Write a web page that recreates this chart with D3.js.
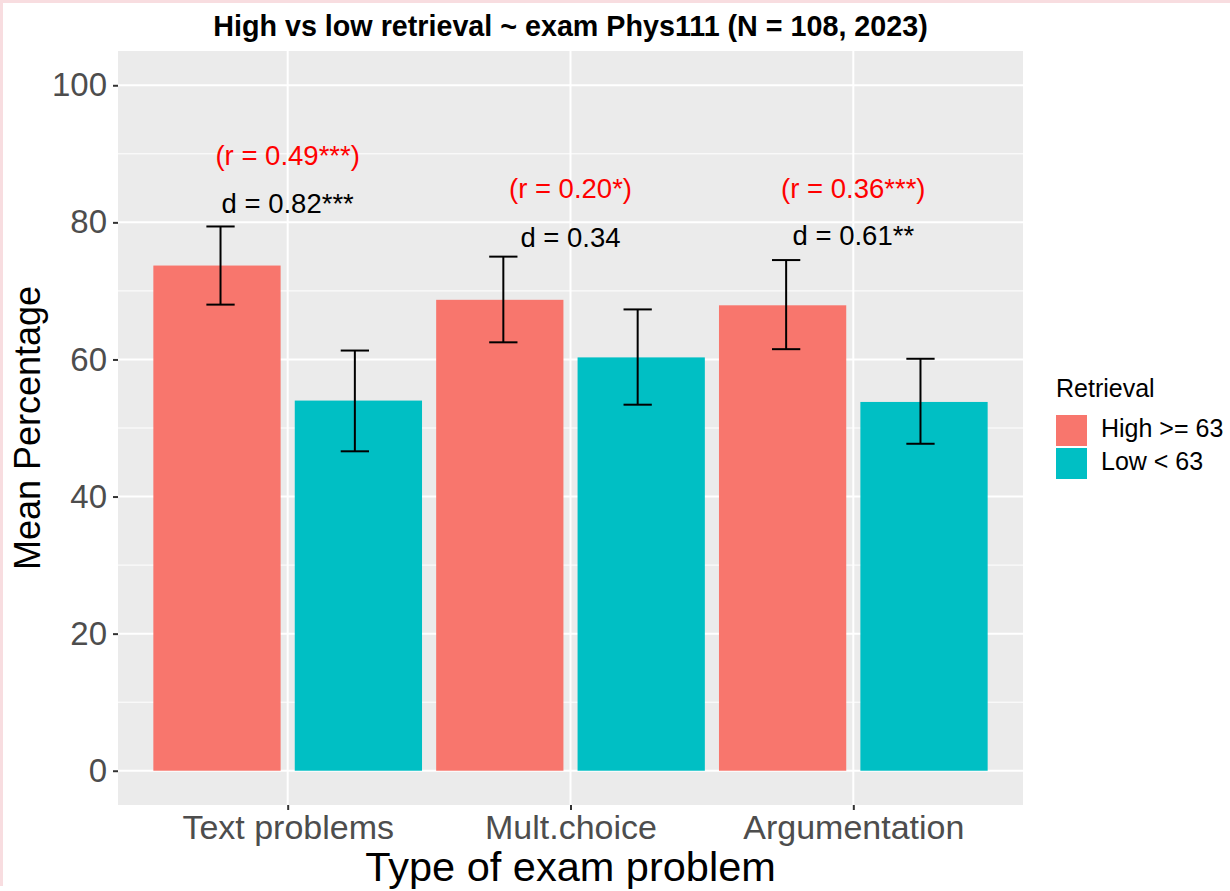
<html>
<head>
<script src="https://d3js.org/d3.v7.min.js"></script>
<style>
body { margin: 0; background: #fff; }
svg { display: block; font-family: 'Liberation Sans', Arial, sans-serif; }
</style>
</head>
<body>
<svg width="1230" height="891"></svg>
<script>

// data
var categories = ["Text problems", "Mult.choice", "Argumentation"];
var groups = ["High >= 63", "Low < 63"];
var highMean = [73.7, 68.7, 67.9];
var highLow = [68.0, 62.5, 61.5];
var highHigh = [79.4, 75.0, 74.5];
var lowMean = [54.0, 60.3, 53.8];
var lowLow = [46.6, 53.4, 47.7];
var lowHigh = [61.3, 67.3, 60.1];
var rLabels = ["(r = 0.49***)", "(r = 0.20*)", "(r = 0.36***)"];
var dLabels = ["d = 0.82***", "d = 0.34", "d = 0.61**"];
var rLabelY = [89.8, 84.9, 84.9];
var dLabelY = [82.8, 77.8, 78.0];
var yTicks = [0, 20, 40, 60, 80, 100];
var yMinor = [10, 30, 50, 70, 90];

var colors = {"High >= 63": "#F8766D", "Low < 63": "#00BFC4"};

var svg = d3.select("svg");

// pink frame of the screenshot
svg.append("rect").attr("x", 0).attr("y", 0).attr("width", 1230).attr("height", 3).attr("fill", "#F8DDE0");
svg.append("rect").attr("x", 0).attr("y", 0).attr("width", 3).attr("height", 886).attr("fill", "#F8DDE0");

var pLeft = 118, pRight = 1023, pTop = 51, pBottom = 805;

var x = d3.scalePoint().domain(categories).range([pLeft, pRight]).padding(0.6);
var y = d3.scaleLinear().domain([-5, 105]).range([pBottom, pTop]);
var step = x.step();

// panel
svg.append("rect").attr("x", pLeft).attr("y", pTop)
	.attr("width", pRight - pLeft).attr("height", pBottom - pTop).attr("fill", "#EBEBEB");

svg.selectAll("line.minor").data(yMinor).enter().append("line").attr("class", "minor")
	.attr("x1", pLeft).attr("x2", pRight)
	.attr("y1", function (d) { return y(d); }).attr("y2", function (d) { return y(d); })
	.attr("stroke", "#fff").attr("stroke-width", 1);
svg.selectAll("line.major").data(yTicks).enter().append("line").attr("class", "major")
	.attr("x1", pLeft).attr("x2", pRight)
	.attr("y1", function (d) { return y(d); }).attr("y2", function (d) { return y(d); })
	.attr("stroke", "#fff").attr("stroke-width", 2);
svg.selectAll("line.vmajor").data(categories).enter().append("line").attr("class", "vmajor")
	.attr("x1", function (d) { return x(d); }).attr("x2", function (d) { return x(d); })
	.attr("y1", pTop).attr("y2", pBottom)
	.attr("stroke", "#fff").attr("stroke-width", 2);

// bars
var rows = [];
categories.forEach(function (c, i) {
	rows.push({cat: c, group: groups[0], mean: highMean[i], lo: highLow[i], hi: highHigh[i], side: -1});
	rows.push({cat: c, group: groups[1], mean: lowMean[i], lo: lowLow[i], hi: lowHigh[i], side: 1});
});

var barW = 0.45 * step;
svg.selectAll("rect.bar").data(rows).enter().append("rect").attr("class", "bar")
	.attr("x", function (d) { return x(d.cat) + d.side * 0.25 * step - barW / 2; })
	.attr("width", barW)
	.attr("y", function (d) { return y(d.mean); })
	.attr("height", function (d) { return y(0) - y(d.mean); })
	.attr("fill", function (d) { return colors[d.group]; });

// error bars
var capW = 0.1 * step;
var eb = svg.selectAll("g.err").data(rows).enter().append("g").attr("class", "err")
	.attr("stroke", "#000").attr("stroke-width", 2);
function ex(d) { return x(d.cat) + d.side * 0.2375 * step; }
eb.append("line").attr("x1", ex).attr("x2", ex)
	.attr("y1", function (d) { return y(d.lo); }).attr("y2", function (d) { return y(d.hi); });
eb.append("line").attr("x1", function (d) { return ex(d) - capW / 2; }).attr("x2", function (d) { return ex(d) + capW / 2; })
	.attr("y1", function (d) { return y(d.lo); }).attr("y2", function (d) { return y(d.lo); });
eb.append("line").attr("x1", function (d) { return ex(d) - capW / 2; }).attr("x2", function (d) { return ex(d) + capW / 2; })
	.attr("y1", function (d) { return y(d.hi); }).attr("y2", function (d) { return y(d.hi); });

// annotations
svg.selectAll("text.r").data(categories).enter().append("text").attr("class", "r")
	.attr("x", function (d) { return x(d); })
	.attr("y", function (d, i) { return y(rLabelY[i]); })
	.attr("dy", "0.34em").attr("text-anchor", "middle")
	.attr("font-size", 27.5).attr("fill", "#FF0000")
	.text(function (d, i) { return rLabels[i]; });
svg.selectAll("text.d").data(categories).enter().append("text").attr("class", "d")
	.attr("x", function (d) { return x(d); })
	.attr("y", function (d, i) { return y(dLabelY[i]); })
	.attr("dy", "0.34em").attr("text-anchor", "middle")
	.attr("font-size", 27.5).attr("fill", "#000")
	.text(function (d, i) { return dLabels[i]; });

// axes
var yAxis = svg.append("g").attr("transform", "translate(" + pLeft + ",0)")
	.call(d3.axisLeft(y).tickValues(yTicks).tickSize(5).tickPadding(6));
var xAxis = svg.append("g").attr("transform", "translate(0," + pBottom + ")")
	.call(d3.axisBottom(x).tickSize(5).tickPadding(5));
[yAxis, xAxis].forEach(function (a) {
	a.select(".domain").remove();
	a.selectAll(".tick line").attr("stroke", "#333").attr("stroke-width", 2);
	a.selectAll(".tick text").attr("fill", "#4D4D4D").attr("font-family", "'Liberation Sans', Arial, sans-serif");
});
yAxis.selectAll(".tick text").attr("font-size", 33);
xAxis.selectAll(".tick text").attr("font-size", 34).attr("dy", "0.7em");

// titles
svg.append("text").attr("x", (pLeft + pRight) / 2).attr("y", 36).attr("text-anchor", "middle")
	.attr("font-size", 28.7).attr("font-weight", "bold").text("High vs low retrieval ~ exam Phys111 (N = 108, 2023)");
svg.append("text").attr("x", (pLeft + pRight) / 2).attr("y", 881).attr("text-anchor", "middle")
	.attr("font-size", 41.5).text("Type of exam problem");
svg.append("text").attr("transform", "translate(40," + (pTop + pBottom) / 2 + ") rotate(-90)")
	.attr("text-anchor", "middle").attr("font-size", 36).text("Mean Percentage");

// legend
var legend = svg.append("g").attr("transform", "translate(1056,0)");
legend.append("text").attr("x", 0).attr("y", 397).attr("font-size", 25).text("Retrieval");
var keys = legend.selectAll("g.key").data(groups).enter().append("g").attr("class", "key");
keys.append("rect").attr("x", 0).attr("y", function (d, i) { return 415 + i * 33; })
	.attr("width", 31).attr("height", 31).attr("fill", function (d) { return colors[d]; });
keys.append("text").attr("x", 45).attr("y", function (d, i) { return 437 + i * 33; })
	.attr("font-size", 25).text(function (d) { return d; });

</script>
</body>
</html>
